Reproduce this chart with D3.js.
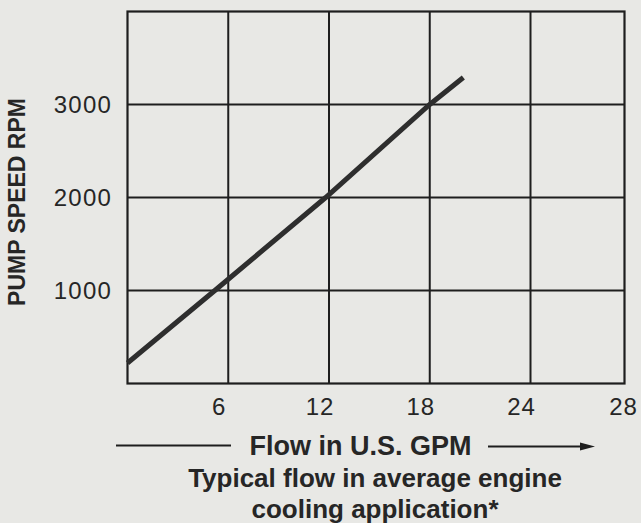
<!DOCTYPE html>
<html>
<head>
<meta charset="utf-8">
<script src="https://cdn.jsdelivr.net/npm/d3@7"></script>
<style>
  html, body { margin: 0; padding: 0; background: #e8e8e5; }
  svg { display: block; }
  text { font-family: "Liberation Sans", Arial, Helvetica, sans-serif; fill: #262626; }
</style>
</head>
<body>
<script>
// ---- data ----
const flowGPM = [0, 5.2, 11.8, 18.0, 20];          // U.S. GPM
const pumpRPM = [220, 1000, 2000, 3000, 3290];      // pump speed, rpm
const xTicks = [6, 12, 18, 24, 28];
const yTicks = [1000, 2000, 3000];
const yTitle = "PUMP SPEED RPM";
const xTitle = "Flow in U.S. GPM";
const noteLines = ["Typical flow in average engine", "cooling application*"];

(function () {
const W = 641, H = 523;
const svg = d3.select("body").append("svg").attr("width", W).attr("height", H);

const plotL = 127.5, plotR = 624.5, plotT = 11.5, plotB = 383.5;
// the printed scale has a shortened last column (24 -> 28)
const x = d3.scaleLinear().domain([0, 24, 28]).range([plotL, 530.5, plotR]);
const y = d3.scaleLinear().domain([0, 4000]).range([plotB, plotT]);

const ink = "#1e1e1e";

// grid
const g = svg.append("g");
g.selectAll("line.v").data(xTicks.filter(d => d < 28)).join("line")
  .attr("x1", d => x(d)).attr("x2", d => x(d))
  .attr("y1", y(4000)).attr("y2", y(0))
  .attr("stroke", ink).attr("stroke-width", 2);
g.selectAll("line.h").data(yTicks).join("line")
  .attr("x1", x(0)).attr("x2", x(28))
  .attr("y1", d => y(d)).attr("y2", d => y(d))
  .attr("stroke", ink).attr("stroke-width", 2);
// frame
g.append("rect")
  .attr("x", x(0)).attr("y", y(4000))
  .attr("width", x(28) - x(0)).attr("height", y(0) - y(4000))
  .attr("fill", "none").attr("stroke", ink).attr("stroke-width", 2.2);

// data line
const pts = flowGPM.map((f, i) => [f, pumpRPM[i]]);
svg.append("path")
  .datum(pts)
  .attr("d", d3.line().x(d => x(d[0])).y(d => y(d[1])))
  .attr("fill", "none").attr("stroke", "#2e2e2e").attr("stroke-width", 5);

// y tick labels
svg.selectAll("text.yt").data(yTicks).join("text")
  .attr("x", 112).attr("y", d => y(d))
  .attr("dy", "0.36em")
  .attr("text-anchor", "end")
  .attr("font-size", 24).attr("letter-spacing", 1.2)
  .text(d => d);

// x tick labels (printed slightly left of the grid lines)
svg.selectAll("text.xt").data(xTicks).join("text")
  .attr("x", d => x(d) + (d === 28 ? -1 : -9))
  .attr("y", 415)
  .attr("text-anchor", "middle")
  .attr("font-size", 24).attr("letter-spacing", 1)
  .text(d => d);

// y title
svg.append("text")
  .attr("transform", "translate(25,202) rotate(-90)")
  .attr("text-anchor", "middle")
  .attr("font-size", 23).attr("font-weight", "bold")
  .text(yTitle);

// x title with arrow
svg.append("text")
  .attr("x", 360.5).attr("y", 455)
  .attr("text-anchor", "middle")
  .attr("font-size", 27).attr("font-weight", "bold")
  .text(xTitle);
svg.append("line")
  .attr("x1", 116).attr("x2", 231).attr("y1", 445.5).attr("y2", 445.5)
  .attr("stroke", ink).attr("stroke-width", 2);
svg.append("line")
  .attr("x1", 488).attr("x2", 585).attr("y1", 446.5).attr("y2", 446.5)
  .attr("stroke", ink).attr("stroke-width", 2);
svg.append("path")
  .attr("d", "M580,442.5 L595,446.5 L580,450.5 Z")
  .attr("fill", ink);

// note lines
svg.selectAll("text.note").data(noteLines).join("text")
  .attr("x", 375).attr("y", (d, i) => 487 + i * 31)
  .attr("text-anchor", "middle")
  .attr("font-size", 26).attr("font-weight", "bold")
  .text(d => d);
})();
</script>
</body>
</html>
